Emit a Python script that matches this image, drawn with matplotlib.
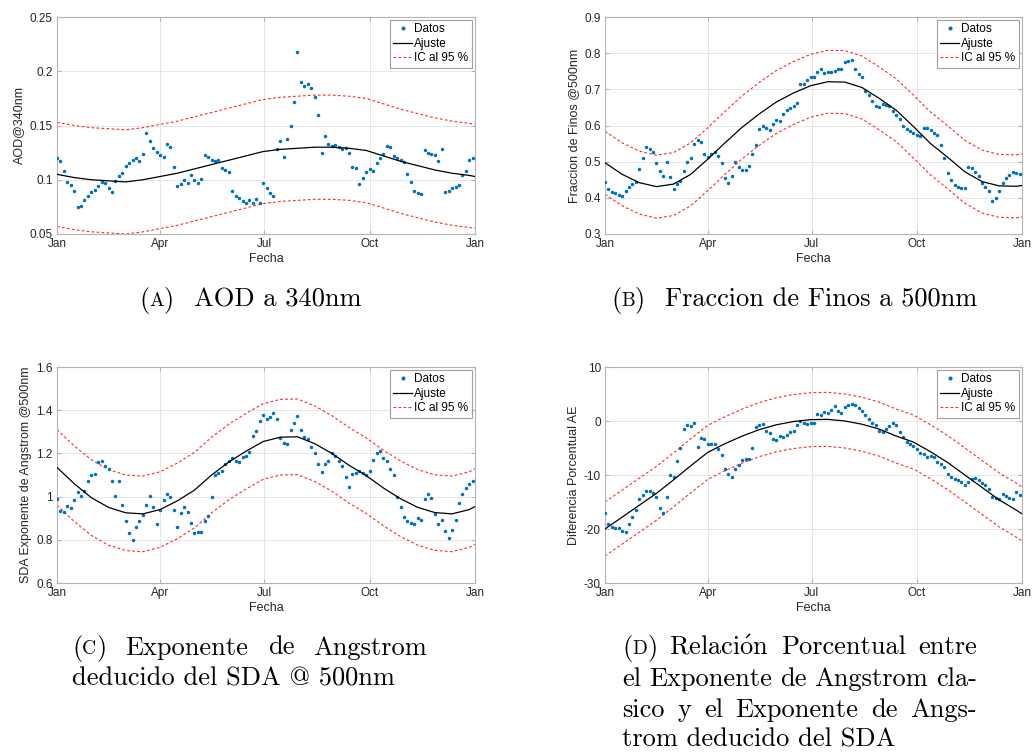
import numpy as np
import matplotlib
matplotlib.use("Agg")
import matplotlib.pyplot as plt
from matplotlib.ticker import FuncFormatter
from matplotlib.offsetbox import TextArea, HPacker, AnnotationBbox

plt.rcParams['font.family'] = ['Liberation Sans', 'DejaVu Sans']
plt.rcParams['axes.unicode_minus'] = False
plt.rcParams['mathtext.fontset'] = 'cm'

# datos diarios muestreados cada 3 dias desde el 1 de enero
dias = np.arange(0, 366, 3)

aod = [0.120, 0.117, 0.108, 0.098, 0.095, 0.090, 0.075, 0.076, 0.081, 0.085,
       0.089, 0.091, 0.094, 0.098, 0.097, 0.092, 0.089, 0.099, 0.103, 0.106,
       0.113, 0.115, 0.118, 0.120, 0.117, 0.124, 0.143, 0.136, 0.129, 0.126,
       0.123, 0.121, 0.133, 0.130, 0.112, 0.094, 0.096, 0.100, 0.097, 0.104,
       0.100, 0.097, 0.101, 0.123, 0.121, 0.118, 0.117, 0.118, 0.111, 0.109,
       0.107, 0.090, 0.085, 0.083, 0.080, 0.079, 0.081, 0.079, 0.082, 0.079,
       0.097, 0.092, 0.088, 0.085, 0.128, 0.136, 0.121, 0.138, 0.150, 0.172,
       0.218, 0.190, 0.186, 0.188, 0.185, 0.176, 0.160, 0.125, 0.140, 0.133,
       0.131, 0.132, 0.130, 0.128, 0.129, 0.125, 0.112, 0.111, 0.096, 0.102,
       0.107, 0.110, 0.108, 0.115, 0.120, 0.124, 0.131, 0.130, 0.122, 0.120,
       0.118, 0.116, 0.105, 0.098, 0.090, 0.088, 0.087, 0.127, 0.125, 0.124,
       0.123, 0.117, 0.128, 0.089, 0.090, 0.092, 0.093, 0.095, 0.104, 0.108,
       0.118, 0.120]

finos = [0.445, 0.425, 0.415, 0.414, 0.408, 0.405, 0.418, 0.430, 0.438, 0.445,
         0.480, 0.510, 0.540, 0.535, 0.528, 0.495, 0.475, 0.460, 0.500, 0.458,
         0.425, 0.438, 0.447, 0.475, 0.500, 0.510, 0.550, 0.560, 0.555, 0.520,
         0.512, 0.522, 0.527, 0.515, 0.495, 0.455, 0.440, 0.460, 0.500, 0.485,
         0.478, 0.478, 0.487, 0.520, 0.545, 0.590, 0.598, 0.592, 0.588, 0.605,
         0.615, 0.612, 0.633, 0.642, 0.648, 0.655, 0.662, 0.714, 0.716, 0.725,
         0.733, 0.735, 0.748, 0.755, 0.745, 0.748, 0.748, 0.752, 0.755, 0.757,
         0.776, 0.778, 0.780, 0.757, 0.743, 0.735, 0.695, 0.685, 0.668, 0.655,
         0.652, 0.660, 0.658, 0.655, 0.640, 0.630, 0.618, 0.598, 0.590, 0.585,
         0.580, 0.575, 0.572, 0.594, 0.592, 0.588, 0.580, 0.573, 0.545, 0.510,
         0.470, 0.450, 0.435, 0.430, 0.428, 0.426, 0.484, 0.482, 0.472, 0.460,
         0.440, 0.430, 0.420, 0.390, 0.400, 0.420, 0.440, 0.455, 0.463, 0.472,
         0.470, 0.467]

sda = [0.990, 0.935, 0.930, 0.955, 0.945, 0.985, 1.020, 1.005, 1.025, 1.070,
       1.100, 1.105, 1.160, 1.165, 1.140, 1.130, 1.070, 1.005, 1.070, 0.960,
       0.885, 0.830, 0.800, 0.860, 0.885, 0.915, 0.960, 1.005, 0.950, 0.875,
       0.940, 0.985, 1.010, 1.000, 0.940, 0.860, 0.925, 0.950, 0.930, 0.880,
       0.830, 0.835, 0.835, 0.885, 0.910, 1.000, 1.100, 1.110, 1.120, 1.150,
       1.165, 1.180, 1.165, 1.160, 1.185, 1.190, 1.205, 1.280, 1.305, 1.350,
       1.380, 1.360, 1.370, 1.385, 1.360, 1.270, 1.250, 1.245, 1.310, 1.340,
       1.375, 1.310, 1.275, 1.265, 1.230, 1.200, 1.150, 1.115, 1.150, 1.165,
       1.200, 1.190, 1.165, 1.140, 1.090, 1.045, 1.105, 1.110, 1.120, 1.110,
       1.100, 1.120, 1.170, 1.200, 1.210, 1.180, 1.165, 1.130, 1.100, 1.000,
       0.950, 0.905, 0.885, 0.880, 0.875, 0.900, 0.890, 0.990, 1.010, 0.995,
       0.920, 0.875, 0.890, 0.840, 0.810, 0.845, 0.890, 0.970, 1.010, 1.040,
       1.060, 1.070]

dif_ae = [-17.0, -19.0, -19.6, -19.8, -19.9, -20.3, -20.6, -19.0, -17.8, -16.5,
          -14.5, -13.7, -13.0, -12.9, -13.4, -14.1, -16.2, -17.0, -14.0, -10.0,
          -10.4, -7.4, -5.0, -1.4, -0.8, -1.0, -0.3, -4.8, -3.2, -3.3,
          -4.2, -4.2, -4.3, -5.1, -6.3, -8.8, -9.8, -10.4, -8.9, -8.2,
          -7.3, -7.1, -7.0, -5.0, -1.1, -0.8, -0.5, -1.8, -2.2, -3.3,
          -3.5, -2.8, -2.9, -2.6, -2.0, -1.8, -0.8, 0.0, -0.3, -0.6,
          -0.4, -0.3, 1.3, 1.1, 1.7, 1.5, 2.0, 2.8, 1.8, 1.5,
          2.6, 2.9, 3.1, 3.0, 2.5, 1.8, 1.2, 0.4, -0.4, -0.8,
          -1.8, -2.0, -1.4, -1.0, -0.3, -0.8, -2.0, -3.0, -3.9, -4.2,
          -4.6, -5.2, -6.0, -6.2, -6.6, -6.4, -6.7, -7.6, -8.0, -8.5,
          -9.8, -10.4, -10.8, -11.0, -11.3, -11.8, -11.3, -10.8, -10.5, -11.0,
          -11.5, -11.9, -12.6, -14.0, -14.3, -14.4, -13.6, -13.9, -14.2, -14.4,
          -13.2, -13.7]

# curvas de ajuste leidas cada 15 dias
dias_ajuste = np.append(np.arange(0, 361, 15), 365)
ajuste_aod = [0.105, 0.102, 0.100, 0.099, 0.098, 0.100, 0.103, 0.106, 0.110, 0.114,
              0.118, 0.122, 0.126, 0.128, 0.129, 0.130, 0.130, 0.129, 0.127, 0.122,
              0.117, 0.113, 0.109, 0.106, 0.104, 0.103]
ajuste_finos = [0.497, 0.465, 0.442, 0.431, 0.438, 0.465, 0.507, 0.552, 0.595, 0.632,
                0.665, 0.690, 0.710, 0.721, 0.720, 0.705, 0.675, 0.642, 0.597, 0.550,
                0.512, 0.472, 0.445, 0.433, 0.432, 0.434]
ajuste_sda = [1.135, 1.060, 0.995, 0.950, 0.925, 0.920, 0.940, 0.980, 1.030, 1.100,
              1.160, 1.210, 1.255, 1.275, 1.277, 1.245, 1.200, 1.145, 1.097, 1.040,
              0.990, 0.950, 0.926, 0.920, 0.940, 0.954]
ajuste_dif = [-20.0, -17.8, -15.6, -13.4, -10.9, -8.3, -5.8, -4.2, -2.8, -1.6,
              -0.7, -0.1, 0.25, 0.3, 0.0, -0.6, -1.5, -2.8, -3.9, -5.7,
              -7.7, -10.0, -12.3, -14.6, -16.5, -17.2]

# semiancho del intervalo de confianza
ic_aod = 0.048
ic_finos = 0.087
ic_sda = 0.175
ic_dif = 5.0

meses_pos = [0, 90, 181, 273, 365]
meses = ['Jan', 'Apr', 'Jul', 'Oct', 'Jan']

W, H = 1033, 753
fig = plt.figure(figsize=(W / 100, H / 100), dpi=100)

azul = '#0072BD'
rojo = '#ff2a2a'
gris = '#b4b4b4'


def panel(left, top, right, bottom, datos, ajuste, ic, ylim, yticks, ylabel):
    ax = fig.add_axes([left / W, 1 - bottom / H, (right - left) / W, (bottom - top) / H])
    ax.plot(dias[:len(datos)], datos, linestyle='none', marker='.', ms=3,
            color=azul, label='Datos', zorder=3)
    ajuste = np.array(ajuste)
    ax.plot(dias_ajuste, ajuste, color='k', lw=0.9, label='Ajuste', zorder=4)
    ax.plot(dias_ajuste, ajuste + ic, color=rojo, lw=0.8, dashes=(2.5, 2),
            label='IC al 95 %', zorder=2)
    ax.plot(dias_ajuste, ajuste - ic, color=rojo, lw=0.8, dashes=(2.5, 2), zorder=2)
    ax.set_xlim(0, 365)
    ax.set_ylim(*ylim)
    ax.set_xticks(meses_pos)
    ax.set_xticklabels(meses)
    ax.set_yticks(yticks)
    ax.yaxis.set_major_formatter(FuncFormatter(lambda v, p: '%g' % v))
    ax.grid(True, color='#e6e6e6', lw=0.7)
    ax.set_axisbelow(True)
    for s in ax.spines.values():
        s.set_color(gris)
        s.set_linewidth(0.8)
    ax.tick_params(direction='in', length=3, color=gris, labelsize=8.5,
                   labelcolor='#262626', pad=3, top=True, right=True)
    ax.set_xlabel('Fecha', fontsize=9, color='#262626', labelpad=2)
    ax.set_ylabel(ylabel, fontsize=9, color='#262626', labelpad=3)
    leg = ax.legend(loc='upper right', fontsize=8.5, frameon=True, fancybox=False,
                    edgecolor='#a0a0a0', framealpha=1, borderaxespad=0.25,
                    handlelength=1.6, handletextpad=0.2, labelspacing=0.2,
                    borderpad=0.3, numpoints=1, markerscale=1.3)
    leg.get_frame().set_linewidth(0.8)
    return ax


panel(57, 17, 475, 234, aod, ajuste_aod, ic_aod, (0.05, 0.25),
      [0.05, 0.1, 0.15, 0.2, 0.25], 'AOD@340nm')
panel(605, 17, 1022, 234, finos, ajuste_finos, ic_finos, (0.3, 0.9),
      [0.3, 0.4, 0.5, 0.6, 0.7, 0.8, 0.9], 'Fraccion de Finos @500nm')
panel(57, 367, 475, 583, sda, ajuste_sda, ic_sda, (0.6, 1.6),
      [0.6, 0.8, 1, 1.2, 1.4, 1.6], 'SDA Exponente de Angstrom @500nm')
panel(605, 367, 1022, 583, dif_ae, ajuste_dif, ic_dif, (-30, 10),
      [-30, -20, -10, 0, 10], 'Diferencia Porcentual AE')

# leyendas de las subfiguras (texto tipo LaTeX, justificado)
cap_fs = 19
serif = ['cmr10', 'DejaVu Serif']
props = dict(family=serif, size=cap_fs, color='k')
small = dict(family=serif, size=cap_fs * 0.74, color='k')
renderer = fig.canvas.get_renderer()


def etiqueta(letra):
    return HPacker(children=[TextArea('(', textprops=props),
                             TextArea(letra, textprops=small),
                             TextArea(')', textprops=props)],
                   align='baseline', pad=0, sep=0)


def linea(x, y, partes, ancho=None, align=(0.0, 0.5), sep=0.0):
    for p in partes:
        p.set_figure(fig)
    if ancho is not None:
        tot = sum(p.get_bbox(renderer).width for p in partes)
        sep = (ancho - tot) / (len(partes) - 1) * 72 / fig.dpi
    box = HPacker(children=partes, align='baseline', pad=0, sep=sep)
    ab = AnnotationBbox(box, (x / W, 1 - y / H), xycoords='figure fraction',
                        box_alignment=align, frameon=False, pad=0)
    fig.add_artist(ab)


def palabras(texto):
    return [TextArea(w, textprops=props) for w in texto.split(' ')]


linea(250, 300, [etiqueta('A'), TextArea('AOD a 340nm', textprops=props)],
      align=(0.5, 0.5), sep=14)
linea(794, 300, [etiqueta('B'), TextArea('Fraccion de Finos a 500nm', textprops=props)],
      align=(0.5, 0.5), sep=14)

linea(72, 648, [etiqueta('C')] + palabras('Exponente de Angstrom'), ancho=355)
linea(72, 679, [TextArea('deducido del SDA @ 500nm', textprops=props)])

linea(622, 648, [etiqueta('D')] + palabras(r'Relaci$\acute{\mathrm{o}}$n Porcentual entre'),
      ancho=355)
linea(622, 679, palabras('el Exponente de Angstrom cla-'), ancho=355)
linea(622, 710, palabras('sico y el Exponente de Angs-'), ancho=355)
linea(622, 740, [TextArea('trom deducido del SDA', textprops=props)])

fig.savefig('out.png', dpi=100, facecolor='white')
